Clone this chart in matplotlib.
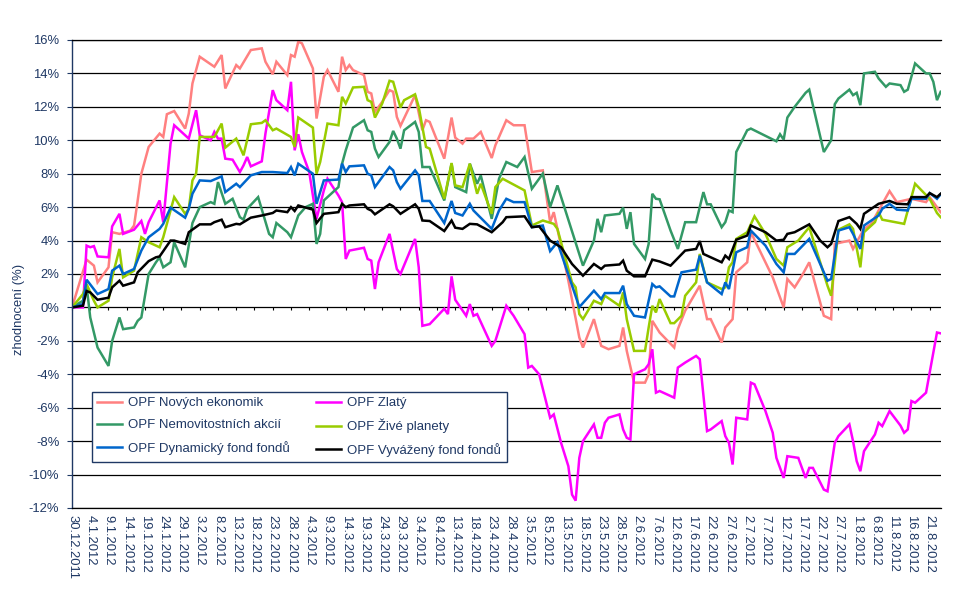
#!/usr/bin/env python3
"""
Cumulative return (%) of six OPF funds since 30.12.2011, drawn as a line chart.
Values were read off the original picture; x positions are day offsets from START.
"""
import matplotlib

matplotlib.use("Agg")
import matplotlib.pyplot as plt
import pandas as pd
from matplotlib.lines import Line2D

plt.rcParams["font.family"] = ["Liberation Sans", "DejaVu Sans"]

START = pd.Timestamp("2011-12-30")
LAST_DAY = 238
NAVY = "#1f3864"

# OPF Nových ekonomik
nove_days = [0, 4, 6, 7, 10, 11, 13, 16, 17, 18,
             19, 21, 24, 25, 26, 28, 31, 32, 33, 35,
             39, 41, 42, 45, 46, 49, 52, 53, 55, 56,
             59, 60, 61, 62, 63, 66, 67, 69, 70, 73,
             74, 75, 76, 77, 80, 81, 82, 83, 85, 87,
             88, 89, 90, 94, 96, 97, 98, 102, 104, 105,
             107, 108, 110, 112, 115, 116, 117, 119, 121, 124,
             126, 129, 131, 132, 133, 136, 139, 140, 143, 145,
             147, 150, 151, 152, 154, 157, 158, 159, 161, 165,
             166, 168, 172, 174, 175, 178, 179, 181, 182, 185,
             186, 192, 195, 196, 198, 200, 202, 206, 208, 209,
             213, 214, 217, 219, 221, 224, 226, 230, 234, 235,
             238]
nove_vals = [0, 2.86, 2.5, 1.5, 2.4, 4.5, 4.4, 4.6, 4.9, 6.4,
             8.0, 9.6, 10.4, 10.2, 11.56, 11.75, 10.7, 11.6, 13.4, 15.0,
             14.4, 15.1, 13.1, 14.5, 14.3, 15.4, 15.5, 14.7, 13.95, 14.7,
             13.9, 15.1, 15.0, 15.9, 15.8, 14.3, 11.3, 13.8, 14.2, 12.9,
             15.0, 14.2, 14.5, 14.2, 13.9, 12.9, 12.8, 11.7, 12.3, 13.0,
             12.9, 11.4, 10.86, 12.7, 10.6, 11.2, 11.1, 8.9, 11.36, 10.16,
             9.8, 10.1, 10.1, 10.5, 8.94, 9.7, 10.2, 11.2, 10.9, 10.9,
             8.1, 8.2, 5.1, 5.7, 4.7, 1.6, -1.8, -2.4, -0.7, -2.3,
             -2.5, -2.3, -1.2, -2.6, -4.5, -4.5, -4.0, -0.8, -1.5, -2.4,
             -1.3, -0.2, 1.3, -0.7, -0.7, -2.1, -1.2, -0.7, 2.1, 2.7,
             4.5, 1.8, 0.0, 1.7, 1.2, 1.9, 2.7, -0.5, -0.7, 3.8,
             4.0, 3.5, 4.7, 5.0, 5.8, 6.96, 6.3, 6.5, 6.3, 6.6,
             5.7]

# OPF Zlatý
zlaty_days = [0, 3, 4, 5, 6, 7, 10, 11, 13, 14,
              17, 19, 20, 21, 24, 25, 27, 28, 32, 34,
              35, 38, 39, 40, 41, 42, 44, 46, 47, 48,
              49, 52, 53, 55, 56, 59, 60, 61, 62, 63,
              65, 67, 69, 70, 73, 74, 75, 76, 80, 81,
              82, 83, 84, 87, 89, 90, 94, 95, 96, 98,
              102, 103, 104, 105, 108, 109, 110, 111, 115, 116,
              119, 121, 124, 125, 126, 128, 131, 132, 134,
              136, 137, 138, 139, 140, 143, 144, 145, 146, 147,
              150, 151, 152, 153, 154, 157, 158, 159, 160, 161,
              165, 166, 168, 171, 172, 174, 175, 178, 179,
              180, 181, 182, 185, 186, 187, 190, 192, 193, 195,
              196, 199, 201, 202, 203, 206, 207, 209, 210, 213,
              214, 215, 216, 217, 220, 221, 222, 224, 227, 228,
              229, 230, 231, 234, 237, 238]
zlaty_vals = [0, 0, 3.7, 3.6, 3.67, 3.05, 3.0, 4.85, 5.6, 4.4,
              4.65, 5.17, 4.4, 5.1, 6.4, 5.1, 9.8, 10.9, 10.1, 11.8,
              10.3, 10.0, 10.5, 10.1, 10.1, 8.9, 8.84, 8.1, 8.5, 9.0,
              8.44, 8.74, 10.4, 13.0, 12.4, 11.8, 13.5, 9.4, 10.36, 9.3,
              8.1, 5.3, 7.0, 7.7, 6.7, 6.3, 2.9, 3.4, 3.57, 2.9,
              2.8, 1.1, 2.7, 4.4, 2.3, 2.0, 4.1, 2.4, -1.1, -1.0,
              -0.08, -0.4, 1.86, 0.46, -0.5, 0.2, -0.5, -0.4, -2.3, -2.0,
              0.1, -0.5, -1.6, -3.6, -3.5, -4.0, -6.6, -6.4, -8.1,
              -9.5, -11.2, -11.56, -9.0, -8.0, -7.0, -7.8, -7.8, -6.9, -6.6,
              -6.4, -7.3, -7.8, -7.9, -4.0, -3.7, -3.4, -2.5, -5.1, -5.0,
              -5.4, -3.6, -3.3, -2.9, -3.1, -7.4, -7.3, -6.8, -7.7,
              -8.1, -9.4, -6.6, -6.7, -4.5, -4.6, -6.2, -7.5, -9.0, -10.2,
              -8.9, -9.0, -10.2, -9.6, -9.6, -10.9, -11.0, -8.1, -7.7, -7.0,
              -8.0, -9.2, -9.8, -8.6, -7.6, -6.9, -7.1, -6.2, -7.07, -7.5,
              -7.3, -5.6, -5.7, -5.1, -1.5, -1.55]

# OPF Nemovitostních akcií
nemo_days = [0, 3, 4, 5, 7, 10, 11, 13, 14, 17,
             18, 19, 21, 23, 24, 25, 27, 28, 31, 33,
             35, 38, 39, 40, 42, 44, 46, 47, 48, 51,
             54, 55, 56, 59, 60, 62, 64, 66, 67, 68,
             69, 73, 74, 75, 77, 80, 81, 82, 83, 84,
             87, 88, 89, 90, 91, 94, 95, 96, 98, 102,
             104, 105, 108, 109, 111, 112, 115, 117, 119, 122,
             124, 126, 129, 131, 133, 140, 143, 144, 145,
             146, 150, 151, 152, 153, 154, 157, 158, 159, 160,
             161, 164, 166, 168, 171, 173, 174, 175, 178, 179,
             180, 181, 182, 185, 186, 193, 194, 195, 196, 198,
             201, 202, 206, 208, 209, 210, 213, 214, 215, 216,
             217, 220, 221, 223, 224, 227, 228, 229, 231, 234,
             235, 236, 237, 238]
nemo_vals = [0, 0.4, 1.3, -0.6, -2.4, -3.5, -2.0, -0.6, -1.3, -1.2,
             -0.8, -0.6, 2.0, 2.7, 3.0, 2.4, 2.7, 3.9, 2.4, 5.05,
             6.0, 6.3, 6.2, 7.5, 6.2, 6.5, 5.4, 5.25, 5.9, 6.6,
             4.4, 4.2, 5.05, 4.5, 4.2, 5.5, 6.0, 6.2, 3.8, 4.4,
             6.4, 7.2, 8.6, 9.4, 10.76, 11.2, 10.6, 10.5, 9.5, 9.0,
             9.9, 10.56, 10.1, 9.5, 10.6, 11.1, 10.5, 8.4, 8.4, 6.4,
             8.6, 7.2, 6.9, 8.6, 7.4, 7.9, 5.3, 7.7, 8.7, 8.4,
             9.0, 7.1, 8.0, 6.0, 7.3, 2.5, 4.0, 5.3, 4.5,
             5.5, 5.6, 5.97, 4.7, 5.7, 3.8, 2.9, 3.8, 6.8, 6.5,
             6.47, 4.6, 3.5, 5.1, 5.1, 6.9, 6.17, 6.17, 4.8, 5.1,
             5.8, 5.7, 9.3, 10.6, 10.7, 9.94, 10.36, 10.04, 11.36, 12.0,
             12.84, 13.03, 9.3, 10.0, 12.16, 12.5, 13.03, 12.7, 12.84, 12.1,
             14.0, 14.1, 13.7, 13.2, 13.4, 13.3, 12.9, 13.03, 14.6, 14.0,
             14.0, 13.5, 12.4, 12.9]

# OPF Živé planety
zive_days = [0, 3, 4, 6, 7, 10, 11, 13, 14, 17,
             19, 21, 24, 25, 28, 31, 32, 33, 34, 35,
             39, 41, 42, 45, 47, 49, 52, 53, 55, 56,
             60, 61, 62, 66, 67, 68, 70, 73, 74, 75,
             77, 80, 81, 82, 83, 85, 87, 88, 90, 91,
             94, 95, 97, 98, 102, 104, 105, 107, 109, 111,
             112, 115, 116, 118, 124, 126, 129, 132, 133, 137,
             138, 139, 140, 143, 145, 146, 150, 151, 152, 154,
             157, 158, 159, 160, 161, 164, 165, 167, 168, 171,
             172, 174, 178, 179, 180, 181, 182, 185, 187, 190,
             193, 195, 196, 199, 202, 207, 208, 210, 213, 214,
             216, 217, 220, 221, 222, 228, 229, 231, 235, 237,
             238]
zive_vals = [0, 0.8, 1.4, 0.4, 0.0, 0.4, 1.8, 3.5, 1.8, 2.2,
             4.2, 3.9, 3.6, 4.2, 6.6, 5.6, 5.9, 7.6, 8.0, 10.2,
             10.2, 11.0, 9.56, 10.1, 9.1, 10.96, 11.04, 11.2, 10.6, 10.7,
             10.2, 9.6, 11.36, 10.76, 8.0, 8.7, 11.0, 10.9, 12.6, 12.2,
             13.16, 13.2, 12.4, 12.3, 11.36, 12.2, 13.56, 13.5, 11.96, 12.4,
             12.75, 12.0, 9.6, 9.5, 6.5, 8.64, 7.3, 7.2, 8.6, 6.8,
             7.4, 5.6, 7.2, 7.7, 7.0, 4.9, 5.2, 5.0, 4.7, 1.5,
             1.2, -0.4, -0.7, 0.4, 0.2, 0.7, 0.1, 0.9, -0.7, -2.6,
             -2.6, -1.2, 0.1, -0.3, 0.5, -0.94, -0.94, -0.5, 0.7, 1.5,
             3.2, 1.5, 1.1, 1.2, 2.4, 2.7, 4.1, 4.5, 5.45, 4.4,
             2.9, 2.5, 3.6, 4.0, 4.8, 1.3, 0.7, 4.65, 4.97, 4.7,
             2.4, 4.5, 5.1, 5.7, 5.25, 5.0, 5.8, 7.4, 6.5, 5.65,
             5.4]

# OPF Dynamický fond fondů
dyn_days = [0, 3, 4, 7, 10, 11, 13, 14, 17, 19,
            21, 24, 25, 27, 31, 32, 33, 35, 38, 41,
            42, 45, 46, 49, 52, 55, 59, 60, 61, 62,
            66, 67, 69, 73, 74, 75, 76, 80, 81, 82,
            83, 87, 88, 89, 90, 94, 95, 96, 98, 102,
            104, 105, 107, 109, 110, 115, 117, 119, 121, 124,
            126, 129, 131, 133, 139, 143, 145, 146, 150, 151,
            152, 154, 157, 159, 160, 161, 164, 165, 167, 171,
            172, 174, 178, 179, 180, 182, 185, 186, 190, 193,
            195, 196, 198, 202, 207, 208, 210, 213, 214, 216,
            217, 221, 222, 224, 226, 229, 230, 234, 235, 237,
            238]
dyn_vals = [0, 0.2, 1.66, 0.8, 1.1, 2.2, 2.5, 2.0, 2.3, 3.4,
            4.2, 4.7, 5.0, 5.97, 5.37, 5.9, 6.8, 7.6, 7.56, 7.84,
            6.9, 7.4, 7.2, 7.9, 8.1, 8.1, 8.04, 8.4, 7.9, 8.6,
            8.0, 6.2, 7.6, 7.65, 8.6, 8.1, 8.44, 8.5, 8.0, 7.9,
            7.2, 8.4, 8.2, 7.5, 7.1, 8.2, 7.9, 6.37, 6.37, 5.05,
            6.37, 5.65, 5.5, 6.2, 5.8, 4.7, 5.8, 6.5, 6.3, 6.3,
            4.8, 4.9, 3.37, 3.9, 0.02, 1.0, 0.5, 0.86, 0.86, 1.3,
            0.2, -0.5, -0.6, 1.4, 1.2, 1.26, 0.66, 0.66, 2.1, 2.26,
            3.1, 1.5, 0.8, 1.5, 1.1, 3.3, 3.6, 4.6, 3.7, 2.6,
            2.1, 3.2, 3.2, 4.1, 1.6, 1.7, 4.6, 4.8, 4.4, 3.5,
            4.9, 5.5, 5.9, 6.2, 5.85, 5.8, 6.5, 6.5, 6.84, 6.5,
            6.77]

# OPF Vyvážený fond fondů
vyv_days = [0, 3, 4, 5, 7, 10, 11, 13, 14, 17,
            18, 21, 23, 24, 27, 28, 31, 32, 35, 38,
            39, 41, 42, 45, 46, 49, 52, 55, 56, 59,
            60, 61, 62, 66, 67, 69, 73, 74, 75, 76,
            80, 81, 82, 83, 87, 88, 90, 94, 95, 96,
            98, 102, 104, 105, 107, 109, 111, 115, 118, 119,
            124, 126, 128, 131, 134, 137, 140, 143, 145, 146,
            150, 151, 152, 154, 157, 159, 161, 164, 168, 171,
            172, 173, 178, 179, 180, 182, 185, 186, 190, 193,
            195, 196, 198, 202, 205, 207, 208, 210, 213, 215,
            216, 217, 221, 224, 226, 229, 230, 234, 235, 237,
            238]
vyv_vals = [0, 0.1, 0.98, 0.9, 0.46, 0.58, 1.2, 1.6, 1.3, 1.5,
            2.1, 2.77, 3.0, 3.05, 4.0, 4.0, 3.8, 4.5, 4.97, 4.97,
            5.1, 5.25, 4.8, 5.0, 4.97, 5.37, 5.5, 5.65, 5.8, 5.7,
            6.0, 5.77, 6.1, 5.85, 5.05, 5.6, 5.7, 6.2, 6.0, 6.1,
            6.17, 5.9, 5.8, 5.57, 6.17, 6.05, 5.6, 6.17, 5.9, 5.2,
            5.17, 4.57, 5.2, 4.77, 4.7, 5.0, 4.97, 4.5, 5.1, 5.4,
            5.45, 4.8, 4.85, 4.0, 3.6, 2.6, 1.9, 2.6, 2.3, 2.5,
            2.57, 2.8, 2.2, 1.86, 1.86, 2.86, 2.75, 2.5, 3.4, 3.5,
            3.97, 3.2, 2.7, 3.1, 2.9, 4.05, 4.3, 4.9, 4.5, 4.0,
            4.05, 4.4, 4.5, 4.97, 4.0, 3.6, 3.8, 5.17, 5.4, 5.0,
            4.7, 5.6, 6.2, 6.37, 6.2, 6.17, 6.6, 6.6, 6.84, 6.6,
            6.8]

# drawing order = Excel series order (later series end up on top)
SERIES = [
    ("OPF Nových ekonomik", nove_days, nove_vals, "#ff8080"),
    ("OPF Zlatý", zlaty_days, zlaty_vals, "#ff00ff"),
    ("OPF Nemovitostních akcií", nemo_days, nemo_vals, "#339966"),
    ("OPF Živé planety", zive_days, zive_vals, "#99cc00"),
    ("OPF Dynamický fond fondů", dyn_days, dyn_vals, "#0066cc"),
    ("OPF Vyvážený fond fondů", vyv_days, vyv_vals, "#000000"),
]


def day_label(offset: int) -> str:
    d = START + pd.Timedelta(days=offset)
    return f"{d.day}.{d.month}.{d.year}"


def main() -> None:
    fig, ax = plt.subplots(figsize=(9.66, 6.01), dpi=100)
    fig.subplots_adjust(left=72 / 966, right=941 / 966, top=1 - 40 / 601, bottom=1 - 508 / 601)

    handles = {}
    for label, days, vals, color in SERIES:
        (line,) = ax.plot(days, vals, color=color, lw=1.8, label=label, solid_joinstyle="miter")
        handles[label] = line

    # y axis
    ax.set_ylim(-12, 16)
    yticks = list(range(-12, 17, 2))
    ax.set_yticks(yticks)
    ax.set_yticklabels([f"{v}%" for v in yticks])
    ax.tick_params(axis="y", length=3.6, direction="out", color=NAVY, pad=5.5,
                   labelcolor=NAVY, labelsize=9.4)
    ax.grid(axis="y", color="black", lw=0.9)
    ax.set_axisbelow(True)
    ax.set_ylabel("zhodnocení (%)", color=NAVY, fontsize=9.4)
    ax.yaxis.set_label_coords(-0.054, 0.425)

    # x axis: a label every 5 days along the bottom, tick marks sit on the 0 % line
    xticks = list(range(0, LAST_DAY, 5))
    ax.set_xlim(0, LAST_DAY + 0.1)
    ax.set_xticks(xticks)
    ax.set_xticklabels([day_label(t) for t in xticks], rotation=270, ha="center", va="top")
    ax.tick_params(axis="x", length=0, pad=5, labelcolor=NAVY, labelsize=9.4)

    zero_axis = ax.secondary_xaxis(12 / 28)
    zero_axis.set_xticks(xticks)
    zero_axis.tick_params(axis="x", length=2.5, direction="out", color="black", labelbottom=False)
    zero_axis.spines["bottom"].set_visible(False)

    for side in ("top", "bottom"):
        ax.spines[side].set_color("black")
        ax.spines[side].set_linewidth(0.9)
    ax.spines["right"].set_visible(False)
    ax.spines["left"].set_color(NAVY)
    ax.spines["left"].set_linewidth(1.0)

    # legend is filled row by row in the original, matplotlib fills columns
    order = ["OPF Nových ekonomik", "OPF Nemovitostních akcií", "OPF Dynamický fond fondů",
             "OPF Zlatý", "OPF Živé planety", "OPF Vyvážený fond fondů"]
    leg = ax.legend(
        [Line2D([], [], color=handles[k].get_color(), lw=1.8) for k in order],
        order,
        ncol=2,
        loc="lower left",
        bbox_to_anchor=(0.023, 0.098),
        borderaxespad=0,
        fancybox=False,
        framealpha=1,
        edgecolor=NAVY,
        fontsize=9.5,
        labelcolor=NAVY,
        handlelength=1.9,
        handletextpad=0.45,
        columnspacing=2.0,
        labelspacing=0.72,
        borderpad=0.4,
    )
    leg.get_frame().set_linewidth(1.0)

    fig.savefig("out.png", dpi=100)


if __name__ == "__main__":
    main()
